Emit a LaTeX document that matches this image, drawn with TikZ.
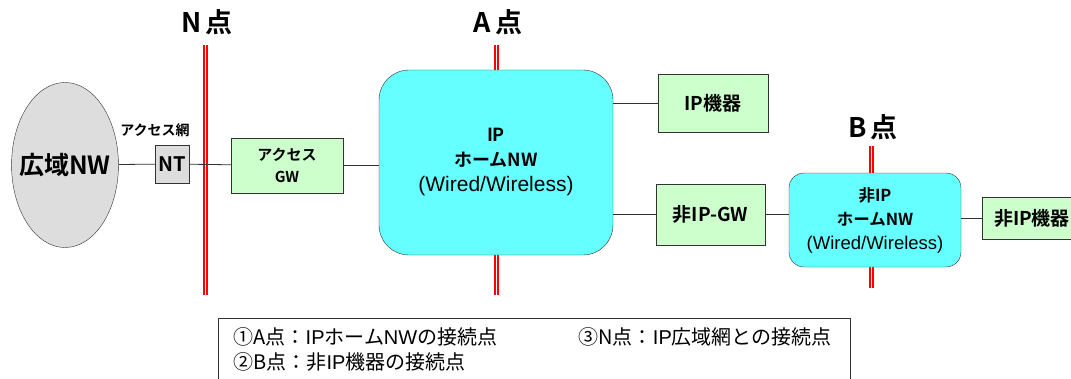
\documentclass[tikz,border=0pt]{standalone}
\usepackage{fontspec}
\setmainfont{Noto Sans CJK JP}[BoldFont={* Bold}]
\newfontfamily\latinfont{Liberation Sans}
\usetikzlibrary{shapes.geometric}
\definecolor{homecyan}{HTML}{66FFFF}
\definecolor{boxgreen}{HTML}{CCFFCC}
\definecolor{netgray}{HTML}{DDDDDD}
\definecolor{edgegray}{HTML}{333333}
\newcommand{\fs}[2]{\fontsize{#1}{#2}\selectfont}
\begin{document}
\begin{tikzpicture}[x=1pt,y=-1pt,
    box/.style={draw=edgegray,fill=boxgreen,inner sep=0pt,align=center,font=\fs{17}{17}\bfseries},
    homebox/.style={draw=edgegray,fill=homecyan,inner sep=0pt,align=center},
    refline/.style={draw=red,double=white,line width=2pt,double distance=1pt},
    pointlabel/.style={font=\fs{27}{27}\bfseries},
    legend/.style={anchor=base west,font=\fs{20}{20}},
    link/.style={draw=edgegray,line width=0.8pt}]
    \clip (0,0) rectangle (1071,378);
    \fill[white] (0,0) rectangle (1071,378);
    \coordinate (ntop) at (205,45);
    \coordinate (nbot) at (205,295);
    \coordinate (atop) at (496,45);
    \coordinate (abot) at (496,295);
    \coordinate (btop) at (871,146);
    \coordinate (bbot) at (871,288);
    \draw[refline] (ntop) -- (nbot);
    \draw[refline] (atop) -- (abot);
    \draw[refline] (btop) -- (bbot);
    \node[pointlabel] (nlabel) at (207,22) {N\,点};
    \node[pointlabel] (alabel) at (498,22) {A\,点};
    \node[pointlabel] (blabel) at (873,127) {B\,点};
    \node[ellipse,draw=edgegray,fill=netgray,minimum width=106,minimum height=165,inner sep=0pt,inner xsep=-8pt,font=\fs{25}{25}\bfseries] (wan) at (65,165) {広域NW};
    \node[font=\fs{14}{14}\bfseries] (accnet) at (155,130) {アクセス網};
    \node[box,fill=netgray,minimum width=34,minimum height=38,font=\fs{20}{20}\bfseries] (nt) at (172,164) {NT};
    \node[box,minimum width=112,minimum height=55,font=\fs{15}{22}\bfseries] (acgw) at (287,165.5) {アクセス\\GW};
    \node[homebox,rounded corners=30,minimum width=234,minimum height=185,font=\fs{18}{25}\bfseries] (iphome) at (496,162.5) {IP\\ホームNW\\{\latinfont\mdseries\fs{21}{25}(Wired/Wireless)}};
    \node[box,minimum width=110,minimum height=58,font=\fs{19}{19}\bfseries] (ipdev) at (713,103) {IP機器};
    \node[box,minimum width=109,minimum height=61,font=\fs{19}{19}\bfseries] (nipgw) at (710.5,214.5) {非IP-GW};
    \node[homebox,rounded corners=15,minimum width=172,minimum height=94,font=\fs{16.5}{24}\bfseries] (niphome) at (875,220) {非IP\\ホームNW\\{\latinfont\mdseries\fs{18.5}{24}(Wired/Wireless)}};
    \node[box,minimum width=100,minimum height=42,font=\fs{19}{19}\bfseries] (nipdev) at (1032,218) {非IP機器};
    \draw[link] (wan) -- (nt);
    \draw[link] (nt) -- (acgw);
    \draw[link] (acgw.east) -- (acgw.east -| iphome.west);
    \draw[link] (ipdev.west) -- (ipdev.west -| iphome.east);
    \draw[link] (nipgw.west) -- (nipgw.west -| iphome.east);
    \draw[link] (nipgw.east) -- (nipgw.east -| niphome.west);
    \draw[link] (nipdev.west) -- (nipdev.west -| niphome.east);
    \draw[draw=edgegray,line width=0.8pt] (218,318) rectangle (850,400);
    \node[legend] (leg1) at (230,344) {①A点：{\latinfont IP}ホーム{\latinfont NW}の接続点};
    \node[legend] (leg3) at (575,344) {③N点：{\latinfont IP}広域網との接続点};
    \node[legend] (leg2) at (230,369) {②B点：非{\latinfont IP}機器の接続点};
\end{tikzpicture}
\end{document}
